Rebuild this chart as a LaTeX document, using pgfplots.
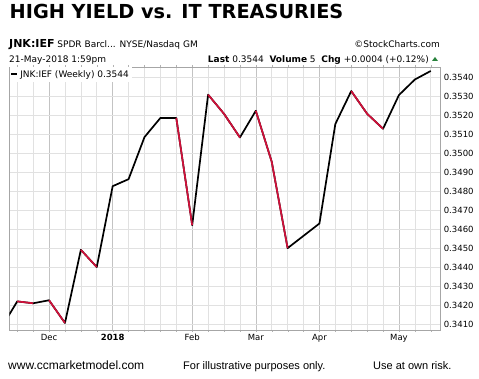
\documentclass[border=0pt]{standalone}
\usepackage{pgfplots}
\pgfplotsset{compat=1.18}
\usepackage{fontspec}
\setmainfont{DejaVu Sans}
\newfontfamily\arialfont{Liberation Sans}
\definecolor{redline}{RGB}{208,16,58}
\definecolor{gridminor}{RGB}{225,225,225}
\definecolor{gridmajor}{RGB}{195,195,195}
\definecolor{upgreen}{RGB}{40,130,60}
\begin{document}
\begin{tikzpicture}
\useasboundingbox (0pt,0pt) rectangle (479pt,379pt);
\node[anchor=base west, inner sep=0] at (9.5pt,360pt) {\bfseries\fontsize{19.3}{20}\selectfont HIGH YIELD vs. IT TREASURIES};
\node[anchor=base west, inner sep=0] at (9pt,331pt) {\fontsize{11}{12}\selectfont\bfseries JNK:IEF\mdseries\fontsize{9}{10}\selectfont\ SPDR Barcl... NYSE/Nasdaq GM};
\node[anchor=base east, inner sep=0] at (440pt,331pt) {\fontsize{9}{10}\selectfont\textcopyright StockCharts.com};
\node[anchor=base west, inner sep=0] at (9pt,316pt) {\fontsize{9}{10}\selectfont 21-May-2018 1:59pm};
\node[anchor=base east, inner sep=0] at (429pt,316pt) {\fontsize{9}{10}\selectfont\textbf{Last} 0.3544 \ \textbf{Volume} 5 \ \textbf{Chg} +0.0004 (+0.12\%)};
\fill[upgreen] (432pt,318pt) -- (438pt,318pt) -- (435pt,322pt) -- cycle;
\node[anchor=base west, inner sep=0] at (8pt,9pt) {\arialfont\fontsize{12}{13}\selectfont www.ccmarketmodel.com};
\node[anchor=base west, inner sep=0] at (183pt,9pt) {\arialfont\fontsize{11}{12}\selectfont For illustrative purposes only.};
\node[anchor=base west, inner sep=0] at (373pt,9pt) {\arialfont\fontsize{11}{12}\selectfont Use at own risk.};
\begin{axis}[
  at={(9.3pt,49pt)}, anchor=south west,
  width=431pt, height=263pt, scale only axis,
  xmin=-0.5, xmax=26.6,
  ymin=0.34068, ymax=0.35456,
  axis line style={gray!70},
  ytick={0.3410,0.3420,0.3430,0.3440,0.3450,0.3460,0.3470,0.3480,0.3490,0.3500,0.3510,0.3520,0.3530,0.3540},
  yticklabel pos=right,
  scaled y ticks=false,
  yticklabel style={/pgf/number format/.cd, fixed, fixed zerofill, precision=4, /tikz/.cd, font=\fontsize{8.5}{9}\selectfont, xshift=-2pt},
  /pgf/number format/assume math mode=true,
  xtick={2,6,11,15,19,24},
  xticklabels={Dec,\textbf{2018},Feb,Mar,Apr,May},
  xticklabel style={font=\fontsize{8.5}{9}\selectfont, yshift=1pt},
  minor xtick={0,1,3,4,5,7,8,9,10,12,13,14,16,17,18,20,21,22,23,25,26},
  xmajorgrids, xminorgrids, ymajorgrids,
  major grid style={gridmajor, line width=0.6pt},
  minor grid style={gridminor, line width=0.6pt},
  y grid style={gridminor, line width=0.6pt},
  tick style={gray!60},
  major tick length=2pt, minor tick length=2pt,
  tick align=outside,
  ytick style={draw=none},
  clip=true,
  legend style={at={(rel axis cs:0,1)}, anchor=north west, draw=none, fill=white, inner sep=1pt, font=\fontsize{9}{10}\selectfont, legend cell align=left},
  legend image code/.code={\draw[black, line width=1.8pt] (0pt,0pt) -- (6pt,0pt);},
]
\addplot[black, line width=1.7pt, line join=round] coordinates {
(-1,0.34080) (0,0.34219) (1,0.34209) (2,0.34225) (3,0.34105) (4,0.34491) (5,0.34400)
(6,0.34827) (7,0.34864) (8,0.35086) (9,0.35187) (10,0.35187) (11,0.34621) (12,0.35310)
(13,0.35209) (14,0.35084) (15,0.35225) (16,0.34956) (17,0.34500) (18,0.34565) (19,0.34630)
(20,0.35155) (21,0.35329) (22,0.35209) (23,0.35130) (24,0.35308) (25,0.35390) (26,0.35435)
};
\addlegendentry{JNK:IEF (Weekly) 0.3544}
\addplot[redline, line width=1.7pt, line join=round, forget plot] coordinates {(0,0.34219) (1,0.34209)};
\addplot[redline, line width=1.7pt, line join=round, forget plot] coordinates {(2,0.34225) (3,0.34105)};
\addplot[redline, line width=1.7pt, line join=round, forget plot] coordinates {(4,0.34491) (5,0.34400)};
\addplot[redline, line width=1.7pt, line join=round, forget plot] coordinates {(10,0.35187) (11,0.34621)};
\addplot[redline, line width=1.7pt, line join=round, forget plot] coordinates {(12,0.35310) (13,0.35209) (14,0.35084)};
\addplot[redline, line width=1.7pt, line join=round, forget plot] coordinates {(15,0.35225) (16,0.34956) (17,0.34500)};
\addplot[redline, line width=1.7pt, line join=round, forget plot] coordinates {(21,0.35329) (22,0.35209) (23,0.35130)};
\end{axis}
\end{tikzpicture}
\end{document}
